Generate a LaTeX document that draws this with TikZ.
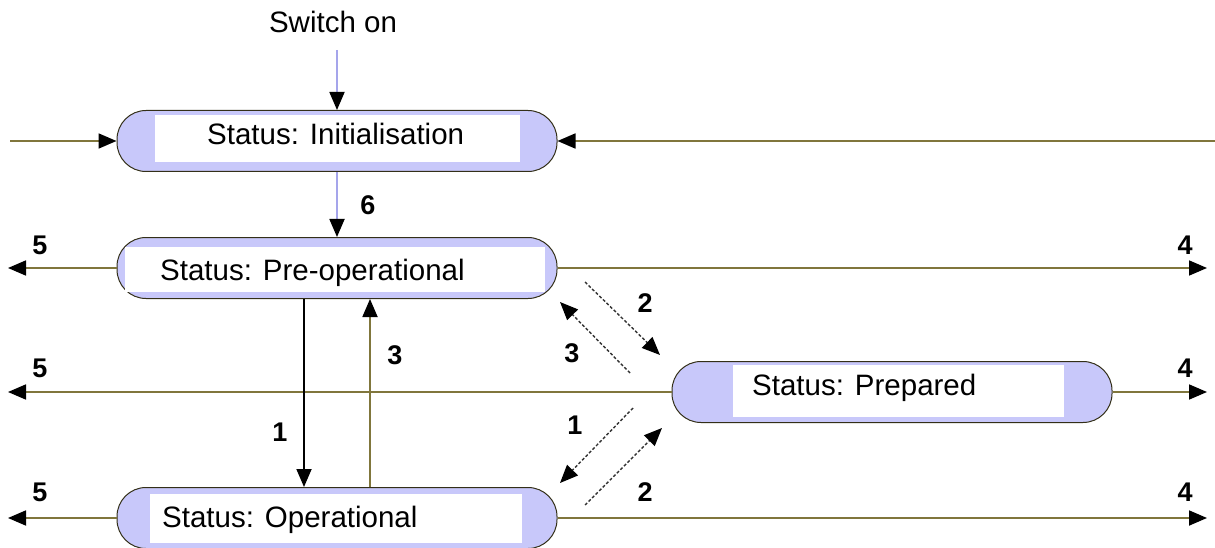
\documentclass[tikz,border=0pt]{standalone}
\usepackage{fontspec}
\setmainfont{Liberation Sans}
\usetikzlibrary{positioning,calc,arrows.meta}
\definecolor{lineol}{RGB}{128,118,60}
\definecolor{lav}{RGB}{200,200,250}
\definecolor{lavline}{RGB}{165,165,235}
\newcommand*{\nm}[1]{\fontsize{27}{27}\selectfont\bfseries #1}
\tikzset{>={Triangle[length=18pt,width=15pt,color=black]}}
\tikzset{
  state/.style={rectangle,rounded corners=29pt,fill=lav,draw=black!60!lineol,
    line width=1pt,minimum width=440pt,minimum height=61pt,inner sep=0pt},
  txt/.style={font=\fontsize{29.5}{30}\selectfont,inner sep=0pt,anchor=base west},
  flow/.style={->,lineol,line width=1.8pt},
  trans/.style={->,black!80,line width=1.4pt,dash pattern=on 3pt off 2pt}
}

\begin{document}
\begin{tikzpicture}[x=1pt,y=-1pt]
\useasboundingbox (0,0) rectangle (1215,548);

% Draw the four states
\node[state] (init) at (337,141) {};
\node[state] (preop) at (337,268) {};
\node[state] (prep) at (892,392) {};
\node[state] (op) at (337,518) {};
\foreach \a/\b/\c/\d in {155/115/520/162, 125/247/545/292,
                         733/365/1064/417, 150/494/522/543}
  \fill[white] (\a,\b) rectangle (\c,\d);
\node[txt] (init-t) at (207,145) {Status: Initialisation};
\node[txt] (preop-t) at (160,280) {Status: Pre-operational};
\node[txt] (prep-t) at (752,395) {Status: Prepared};
\node[txt] (op-t) at (162,527) {Status: Operational};

% Switch on and transition 6
\node[txt,anchor=base] (sw) at (333,33) {Switch on};
\coordinate (swend) at (337,50);
\draw[->,lavline,line width=1.8pt] (swend) -- (init.north);
\draw[->,lavline,line width=1.8pt] (init.south) -- (preop.north);
\node (n6) at (368,205) {\nm{6}};

% Lines into the initialisation state
\coordinate (inL) at (10,141);
\coordinate (inR) at (1215,141);
\draw[flow] (inL) -- (init.west);
\draw[flow] (inR) -- (init.east);

% Transitions 5 and 4
\coordinate (Lpreop) at (8,268);
\coordinate (Lprep) at (8,392);
\coordinate (Lop) at (8,518);
\coordinate (Rpreop) at (1207,268);
\coordinate (Rprep) at (1207,392);
\coordinate (Rop) at (1207,518);
\foreach \s in {preop,prep,op}{
  \draw[flow] (\s.west) -- (L\s);
  \draw[flow] (\s.east) -- (R\s);
}
\foreach \y [count=\i] in {245,368,492}{
  \node (five\i) at (40,\y) {\nm{5}};
  \node (four\i) at (1185,\y) {\nm{4}};
}

% Transitions 1 and 3 between pre-operational and operational
\draw[->,black,line width=1.8pt] ([xshift=-33pt]preop.south) -- ([xshift=-33pt]op.north);
\draw[flow] ([xshift=33pt]op.north) -- ([xshift=33pt]preop.south);
\node (n1a) at (280,432) {\nm{1}};
\node (n3a) at (395,355) {\nm{3}};

% Transitions to and from prepared
\coordinate (a2s) at (585,282);
\coordinate (a2e) at (660,355);
\coordinate (a3s) at (630,373);
\coordinate (a3e) at (560,302);
\coordinate (b1s) at (633,408);
\coordinate (b1e) at (560,483);
\coordinate (b2s) at (585,505);
\coordinate (b2e) at (662,428);
\draw[trans] (a2s) -- (a2e);
\draw[trans] (a3s) -- (a3e);
\draw[trans] (b1s) -- (b1e);
\draw[trans] (b2s) -- (b2e);
\node (n2a) at (645,303) {\nm{2}};
\node (n3b) at (572,353) {\nm{3}};
\node (n1b) at (575,425) {\nm{1}};
\node (n2b) at (645,492) {\nm{2}};
\end{tikzpicture}
\end{document}
